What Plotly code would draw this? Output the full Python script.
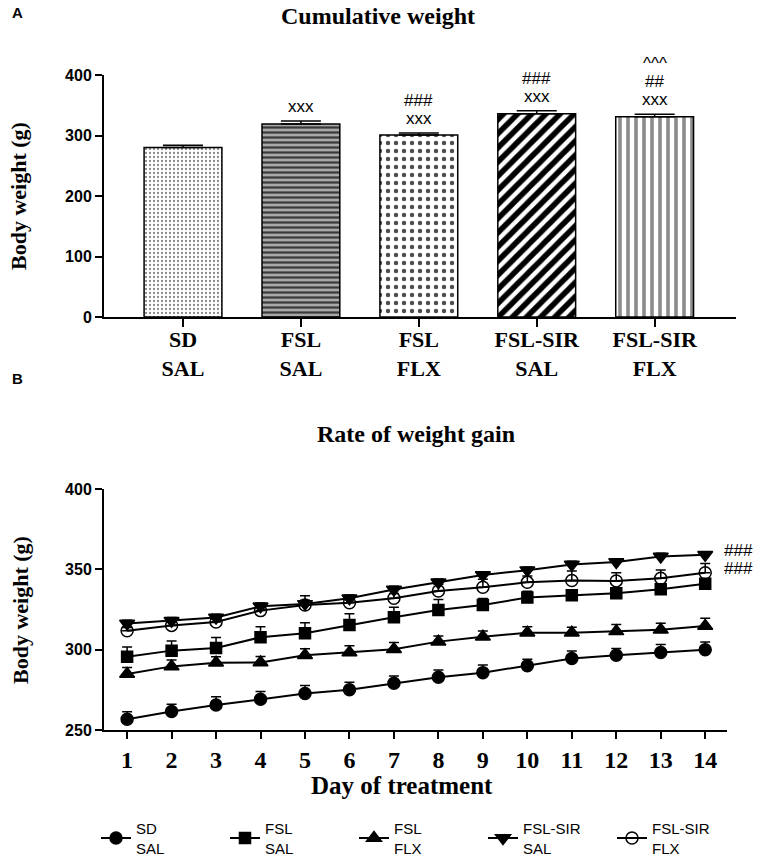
import plotly.graph_objects as go

# panel A: cumulative weight per group
groups = ["SD<br>SAL", "FSL<br>SAL", "FSL<br>FLX", "FSL-SIR<br>SAL", "FSL-SIR<br>FLX"]
cum_weight = [280, 319, 301, 336, 331]
cum_err = [4, 5, 3, 5, 4]
cum_marks = [[], ["xxx"], ["xxx", "###"], ["xxx", "###"], ["xxx", "##", "^^^"]]

# panel B: daily body weight
days = list(range(1, 15))
sd_sal = [256.7, 261.5, 265.5, 269.2, 272.7, 275.1, 279.1, 282.8, 285.7, 290.0, 294.5, 296.5, 298.2, 300.0]
sd_sal_err = [4.7, 4.5, 5.2, 4.8, 5.0, 4.6, 4.5, 4.5, 4.8, 4.0, 4.6, 4.2, 5.0, 4.8]
fsl_sal = [295.6, 299.4, 301.0, 307.7, 310.2, 315.4, 320.2, 324.7, 327.8, 332.4, 333.9, 335.1, 337.6, 341.0]
fsl_sal_err = [6.0, 6.0, 6.5, 6.6, 6.6, 7.0, 6.2, 6.5, 4.0, 4.0, 3.0, 3.0, 3.0, 3.0]
fsl_flx = [284.9, 289.6, 291.9, 292.0, 296.5, 298.2, 300.3, 305.0, 308.1, 310.5, 310.5, 311.4, 312.4, 314.8]
fsl_flx_err = [4.0, 4.0, 3.7, 3.7, 4.0, 4.2, 4.2, 3.5, 3.5, 3.7, 3.5, 4.2, 4.0, 4.7]
sir_sal = [316.3, 318.0, 320.0, 327.0, 328.5, 332.0, 337.5, 342.0, 346.5, 349.5, 353.0, 354.5, 358.0, 359.0]
sir_sal_err = [2, 2, 2, 2, 5, 2, 2, 2, 2, 2, 2, 2, 2, 2]
sir_flx = [311.8, 315.1, 317.2, 324.3, 327.8, 329.2, 332.0, 336.5, 338.8, 341.9, 343.0, 342.8, 344.4, 347.9]
sir_flx_err = [2, 2, 2, 2, 3, 2, 3, 4, 5, 4, 6, 5, 5.2, 5.8]

serif = "Liberation Serif"
sans = "Liberation Sans"
W, H = 765, 860


def px(x):
    return x / W


def py(y):
    return 1 - y / H


ydom_a = [py(317), py(75)]
ymax_a = 400

fig = go.Figure()

fig.add_trace(go.Bar(
    x=groups, y=cum_weight, width=0.66,
    marker=dict(
        color="white",
        line=dict(color="black", width=1.5),
        pattern=dict(
            shape=[".", "-", ".", "/", "|"],
            fgcolor=["#8a8a8a", "#3a3a3a", "#505050", "black", "#8c8c8c"],
            bgcolor=["white", "#a9a9a9", "white", "white", "white"],
            fgopacity=1,
            size=[4, 5, 8, 10, 8],
            solidity=[0.25, 0.45, 0.25, 0.55, 0.45],
        ),
    ),
    error_y=dict(type="data", array=cum_err, arrayminus=[0] * 5, symmetric=False,
                 color="black", thickness=1.5, width=20),
    showlegend=False, xaxis="x", yaxis="y",
))

series = [
    ("SD<br>SAL", sd_sal, sd_sal_err, "circle", 12),
    ("FSL<br>SAL", fsl_sal, fsl_sal_err, "square", 11),
    ("FSL<br>FLX", fsl_flx, fsl_flx_err, "triangle-up", 13),
    ("FSL-SIR<br>SAL", sir_sal, sir_sal_err, "triangle-down", 13),
    ("FSL-SIR<br>FLX", sir_flx, sir_flx_err, "circle-open", 12),
]
for name, vals, err, sym, size in series:
    fig.add_trace(go.Scatter(
        x=days, y=vals, name=name, mode="lines+markers",
        line=dict(color="black", width=2),
        marker=dict(symbol=sym, size=size, color="black", line=dict(color="black", width=1.5)),
        error_y=dict(type="data", array=err, arrayminus=[0] * len(err), symmetric=False,
                     color="black", thickness=1.5, width=5),
        xaxis="x2", yaxis="y2",
    ))

annotations = []
# significance marks above the bars (paper y so marks above 400 still show)
for i, marks in enumerate(cum_marks):
    top = cum_weight[i] + cum_err[i]
    for k, m in enumerate(marks):
        v = top + 24 + 30 * k
        annotations.append(dict(x=groups[i], xref="x",
                                y=ydom_a[0] + v / ymax_a * (ydom_a[1] - ydom_a[0]),
                                text=m, font=dict(family=sans, size=17)))
# marks at the end of the FSL-SIR lines
for vals in (sir_sal, sir_flx):
    annotations.append(dict(x=14.38, y=vals[-1] + 2.5, xref="x2", yref="y2",
                            text="###", xanchor="left", font=dict(family=sans, size=17)))

annotations += [
    dict(x=px(17), y=py(13), text="<b>A</b>", font=dict(family=sans, size=15)),
    dict(x=px(17), y=py(378), text="<b>B</b>", font=dict(family=sans, size=15)),
    dict(x=px(378), y=py(16), text="<b>Cumulative weight</b>", font=dict(family=serif, size=24)),
    dict(x=px(416), y=py(434), text="<b>Rate of weight gain</b>", font=dict(family=serif, size=24)),
    dict(x=px(19), y=py(196), text="<b>Body weight (g)</b>", textangle=-90,
         font=dict(family=serif, size=22)),
    dict(x=px(20), y=py(610), text="<b>Body weight (g)</b>", textangle=-90,
         font=dict(family=serif, size=22)),
    dict(x=px(402), y=py(785), text="<b>Day of treatment</b>", font=dict(family=serif, size=25)),
]
for a in annotations:
    a.setdefault("xref", "paper")
    a.setdefault("yref", "paper")
    a.setdefault("showarrow", False)
    a.setdefault("xanchor", "center")
    a.setdefault("yanchor", "middle")
    a["font"].setdefault("color", "black")

axis_common = dict(showgrid=False, zeroline=False, showline=True, linecolor="black", linewidth=2,
                   ticks="outside", tickcolor="black", tickwidth=1.5)

fig.update_layout(
    width=W, height=H,
    margin=dict(l=0, r=0, t=0, b=0, autoexpand=False),
    paper_bgcolor="white", plot_bgcolor="white",
    annotations=annotations,
    xaxis=dict(domain=[px(104), px(736)], anchor="y", range=[-0.67, 4.69], ticklen=8,
               ticklabelstandoff=-6,
               tickfont=dict(family=serif, size=22, color="black", weight="bold"), **axis_common),
    yaxis=dict(domain=ydom_a, anchor="x", range=[0, ymax_a], tickvals=[0, 100, 200, 300, 400],
               ticklen=7, tickfont=dict(family=sans, size=16, color="black", weight="bold"), **axis_common),
    xaxis2=dict(domain=[px(104), px(727)], anchor="y2", range=[0.48, 14.49], tickvals=days, ticklen=7,
                tickfont=dict(family=serif, size=24, color="black", weight="bold"), **axis_common),
    yaxis2=dict(domain=[py(730), py(489)], anchor="x2", range=[250, 400],
                tickvals=[250, 300, 350, 400], ticklen=7,
                tickfont=dict(family=sans, size=16, color="black", weight="bold"), **axis_common),
    legend=dict(orientation="h", x=px(96), y=py(838), xanchor="left", yanchor="middle",
                entrywidth=84, entrywidthmode="pixels",
                font=dict(family=sans, size=15, color="black")),
)

# drop the page's default body margin so the figure fills the window
fig.write_html("out.html", config={"displayModeBar": False},
               post_script="document.body.style.margin = '0';")
